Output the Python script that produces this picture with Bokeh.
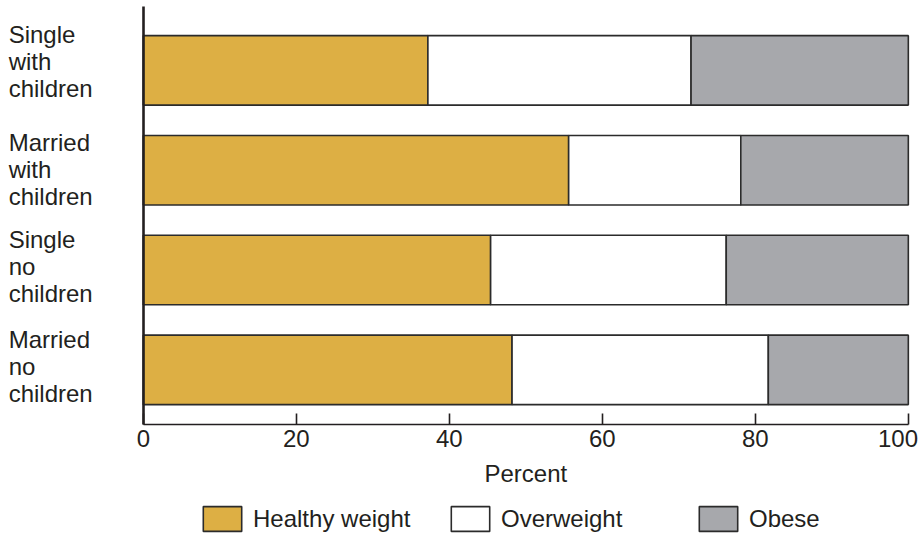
from bokeh.plotting import figure
from bokeh.models import (Range1d, Legend, LegendItem, FixedTicker, ColumnDataSource, Label)
from bokeh.core.properties import value
from bokeh.embed import file_html
from bokeh.resources import INLINE

# ---- data (top to bottom) ----
categories = ["Single\nwith\nchildren", "Married\nwith\nchildren", "Single\nno\nchildren", "Married\nno\nchildren"]
healthy = [37.2, 55.6, 45.4, 48.2]
overweight = [34.4, 22.5, 30.8, 33.5]
obese = [28.4, 21.9, 23.8, 18.3]
series_names = ["Healthy weight", "Overweight", "Obese"]
x_ticks = [0, 20, 40, 60, 80, 100]
x_label = "Percent"

FONT = "Liberation Sans"
TXT = "#231f20"
FS = "24px"
colors = ["#ddaf44", "#ffffff", "#a7a8ac"]

# layout constants (data units along y; one category = 1 unit)
Y_AXIS_BOTTOM = -0.547
Y_AXIS_TOP = 3.640
label_nudge_px = [-9, -1, -4, -3]   # vertical nudge of each category label (pixels)

n = len(categories)
ypos = [n - 1 - i for i in range(n)]  # top category at highest y

src = ColumnDataSource(dict(
    y=ypos, cat=categories, nudge=label_nudge_px,
    healthy=healthy, overweight=overweight, obese=obese,
))

p = figure(width=918, height=538, output_backend="svg", toolbar_location=None,
           title_location=None,
           x_range=Range1d(-18.667, 101.33), y_range=Range1d(-1.689, 3.700),
           min_border_left=0, min_border_right=0, min_border_top=0, min_border_bottom=0)
p.outline_line_color = None
p.xgrid.visible = False
p.ygrid.visible = False
p.background_fill_color = "white"
p.border_fill_color = "white"

renderers = p.hbar_stack(["healthy", "overweight", "obese"], y="y", height=0.696,
                         source=src, fill_color=colors, line_color="#2b2b2b", line_width=1.6)

# category labels (multi-line, left aligned)
p.text(x=-17.6, y="y", text="cat", source=src, text_align="left", text_baseline="middle",
       text_font=value(FONT), text_font_size=FS, text_color=TXT, text_line_height=1.0,
       y_offset="nudge")

# y axis: just the vertical line at x = 0
ay = p.yaxis[0]
ay.fixed_location = 0
ay.bounds = (Y_AXIS_BOTTOM, Y_AXIS_TOP)
ay.ticker = FixedTicker(ticks=[])
ay.axis_line_color = TXT
ay.axis_line_width = 2.6
ay.major_tick_line_color = None
ay.minor_tick_line_color = None

# x axis: tick marks drawn as (inward) minor ticks at the true values,
# labels carried by invisible major ticks (last label nudged left to stay in the window)
label_pos = x_ticks[:-1] + [x_ticks[-1] - 1.35]
ax = p.xaxis[0]
ax.fixed_location = Y_AXIS_BOTTOM
ax.ticker = FixedTicker(ticks=label_pos, minor_ticks=x_ticks)
ax.major_label_overrides = {label_pos[-1]: str(x_ticks[-1])}
ax.bounds = (0, 100)
ax.axis_line_color = TXT
ax.axis_line_width = 1.6
ax.major_tick_line_color = None
ax.major_tick_in = 0
ax.major_tick_out = 0
ax.minor_tick_in = 11
ax.minor_tick_out = 0
ax.minor_tick_line_width = 1.6
ax.minor_tick_line_color = TXT
ax.major_label_text_font = FONT
ax.major_label_text_font_size = FS
ax.major_label_text_color = TXT
ax.major_label_standoff = 6

# axis title, centred over the 0-100 span
p.add_layout(Label(x=50, y=Y_AXIS_BOTTOM, y_offset=-49, text=x_label,
                   text_align="center", text_baseline="middle",
                   text_font=FONT, text_font_size=FS, text_color=TXT))

legend = Legend(items=[LegendItem(label=nm, renderers=[r]) for nm, r in zip(series_names, renderers)],
                orientation="horizontal", location=(198, 4),
                glyph_width=48, glyph_height=31, label_height=31, label_standoff=7,
                label_width=183, spacing=10, padding=0, margin=0,
                border_line_color=None, background_fill_alpha=0,
                label_text_font=FONT, label_text_font_size="24px", label_text_color=TXT)
p.add_layout(legend, "center")

open("out.html", "w").write(file_html(p, INLINE))
